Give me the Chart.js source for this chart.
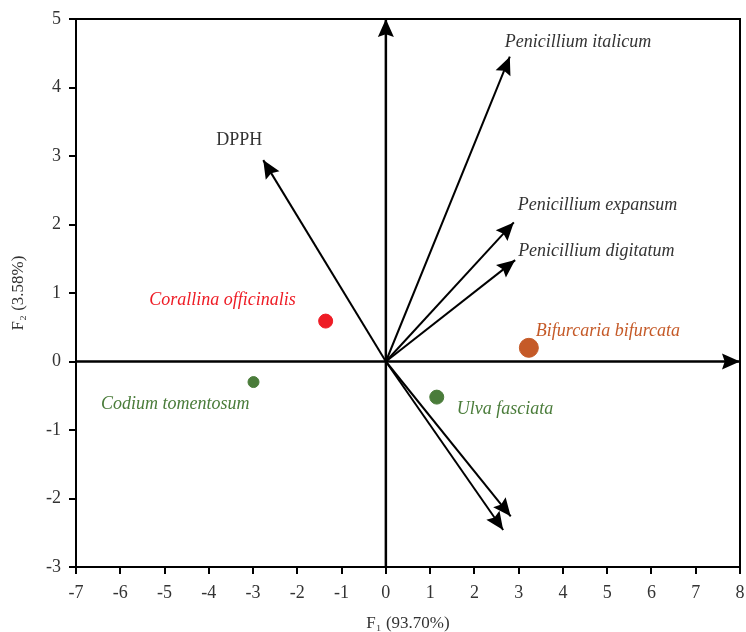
<!DOCTYPE html>
<html>
<head>
<meta charset="utf-8">
<script src="https://cdn.jsdelivr.net/npm/chart.js@4.4.0/dist/chart.umd.min.js"></script>
<style>
  html, body { margin: 0; padding: 0; background: #fff; }
  #wrap { width: 746px; height: 632px; }
</style>
</head>
<body>
<div id="wrap"><canvas id="chart"></canvas></div>
<script>
// Samples (scores)
const sampleNames = ['Corallina officinalis', 'Codium tomentosum', 'Bifurcaria bifurcata', 'Ulva fasciata'];
const sampleX = [-1.36, -2.99, 3.23, 1.15];
const sampleY = [0.59, -0.30, 0.20, -0.52];
const sampleColors = ['#ee1c25', '#4a7c3a', '#c55a28', '#4a7c3a'];
const sampleRadius = [7, 5.5, 9.5, 7];

// Variables (loadings, arrows from origin)
const varNames = ['Penicillium italicum', 'DPPH', 'Penicillium expansum', 'Penicillium digitatum', '', ''];
const varX = [2.80, -2.77, 2.89, 2.92, 2.82, 2.65];
const varY = [4.45, 2.94, 2.03, 1.48, -2.26, -2.46];

// Axis ranges
const xMin = -7, xMax = 8;
const yMin = -3, yMax = 5;

// label placement, pixel offsets from the mark
const sampleLabelOffset = [[-30, -21, 'right'], [-4, 22, 'right'], [7, -17, 'left'], [20, 12, 'left']];
const varLabelOffset = [[-5, -14, 'left'], [-1, -20, 'right'], [4, -17, 'left'], [3, -9, 'left'], [0, 0, 'left'], [0, 0, 'left']];

const FONT = '"Liberation Serif", "Times New Roman", serif';

var datasets = [];

// axes through the origin
datasets.push({ type: 'line', data: [{x: xMin, y: 0}, {x: xMax, y: 0}], borderColor: '#000', borderWidth: 2.5, pointRadius: 0, arrow: true });
datasets.push({ type: 'line', data: [{x: 0, y: yMin}, {x: 0, y: yMax}], borderColor: '#000', borderWidth: 2.5, pointRadius: 0, arrow: true });

// loading vectors
varX.forEach(function (vx, i) {
    datasets.push({
        type: 'line',
        data: [{x: 0, y: 0}, {x: vx, y: varY[i]}],
        borderColor: '#000', borderWidth: 2, pointRadius: 0,
        arrow: true, label: varNames[i], labelColor: '#333', italic: varNames[i] !== 'DPPH',
        labelOffset: varLabelOffset[i]
    });
});

// sample points
sampleX.forEach(function (sx, i) {
    datasets.push({
        type: 'scatter',
        data: [{x: sx, y: sampleY[i]}],
        backgroundColor: sampleColors[i], borderColor: sampleColors[i],
        pointRadius: sampleRadius[i], pointHoverRadius: sampleRadius[i],
        label: sampleNames[i], labelColor: sampleColors[i], italic: true,
        labelOffset: sampleLabelOffset[i]
    });
});

// arrowhead with a small notch
function drawHead(ctx, x0, y0, x1, y1) {
    var ang = Math.atan2(y1 - y0, x1 - x0);
    var len = 18, hw = 8;
    var cx = Math.cos(ang), sy = Math.sin(ang);
    ctx.beginPath();
    ctx.moveTo(x1, y1);
    ctx.lineTo(x1 - len * cx - hw * sy, y1 - len * sy + hw * cx);
    ctx.lineTo(x1 - 0.85 * len * cx, y1 - 0.85 * len * sy);
    ctx.lineTo(x1 - len * cx + hw * sy, y1 - len * sy - hw * cx);
    ctx.closePath();
    ctx.fill();
}

const overlay = {
    id: 'overlay',
    afterDatasetsDraw(chart) {
        const ctx = chart.ctx;
        const a = chart.chartArea;
        ctx.save();
        ctx.strokeStyle = '#000';
        ctx.lineWidth = 2;
        ctx.strokeRect(a.left, a.top, a.right - a.left, a.bottom - a.top);
        ctx.fillStyle = '#000';
        chart.data.datasets.forEach(function (ds, i) {
            const pts = chart.getDatasetMeta(i).data;
            if (ds.arrow) {
                drawHead(ctx, pts[0].x, pts[0].y, pts[1].x, pts[1].y);
            }
        });
        ctx.textBaseline = 'middle';
        chart.data.datasets.forEach(function (ds, i) {
            if (!ds.label) return;
            const pts = chart.getDatasetMeta(i).data;
            const p = pts[pts.length - 1];
            const off = ds.labelOffset;
            ctx.font = (ds.italic ? 'italic ' : '') + '18px ' + FONT;
            ctx.fillStyle = ds.labelColor;
            ctx.textAlign = off[2];
            ctx.fillText(ds.label, p.x + off[0], p.y + off[1]);
        });
        ctx.restore();
    }
};

new Chart(document.getElementById('chart'), {
    type: 'scatter',
    data: { datasets: datasets },
    options: {
        responsive: true,
        maintainAspectRatio: false,
        animation: false,
        layout: { autoPadding: false, padding: { top: 19, right: 6, left: 0, bottom: 0 } },
        plugins: { legend: { display: false }, tooltip: { enabled: false } },
        scales: {
            x: {
                type: 'linear', min: xMin, max: xMax,
                afterFit: function (s) { s.height = 65; s.paddingLeft = 0; s.paddingRight = 0; },
                ticks: { stepSize: 1, color: '#333', padding: 8, font: { family: FONT, size: 18 } },
                grid: { drawOnChartArea: false, drawTicks: true, tickLength: 7, color: '#000', lineWidth: 2 },
                border: { display: true, color: '#000', width: 2 },
                title: { display: true, text: 'F\u2081 (93.70%)', color: '#333', padding: { top: 0, bottom: 0 }, font: { family: FONT, size: 17, lineHeight: 1.0 } }
            },
            y: {
                type: 'linear', min: yMin, max: yMax,
                afterFit: function (s) { s.width = 76; s.paddingTop = 0; s.paddingBottom = 0; },
                ticks: { stepSize: 1, color: '#333', padding: 8, font: { family: FONT, size: 18 } },
                grid: { drawOnChartArea: false, drawTicks: true, tickLength: 7, color: '#000', lineWidth: 2 },
                border: { display: true, color: '#000', width: 2 },
                title: { display: true, text: 'F\u2082 (3.58%)', color: '#333', padding: { top: 8, bottom: 0 }, font: { family: FONT, size: 17 } }
            }
        }
    },
    plugins: [overlay]
});
</script>
</body>
</html>
